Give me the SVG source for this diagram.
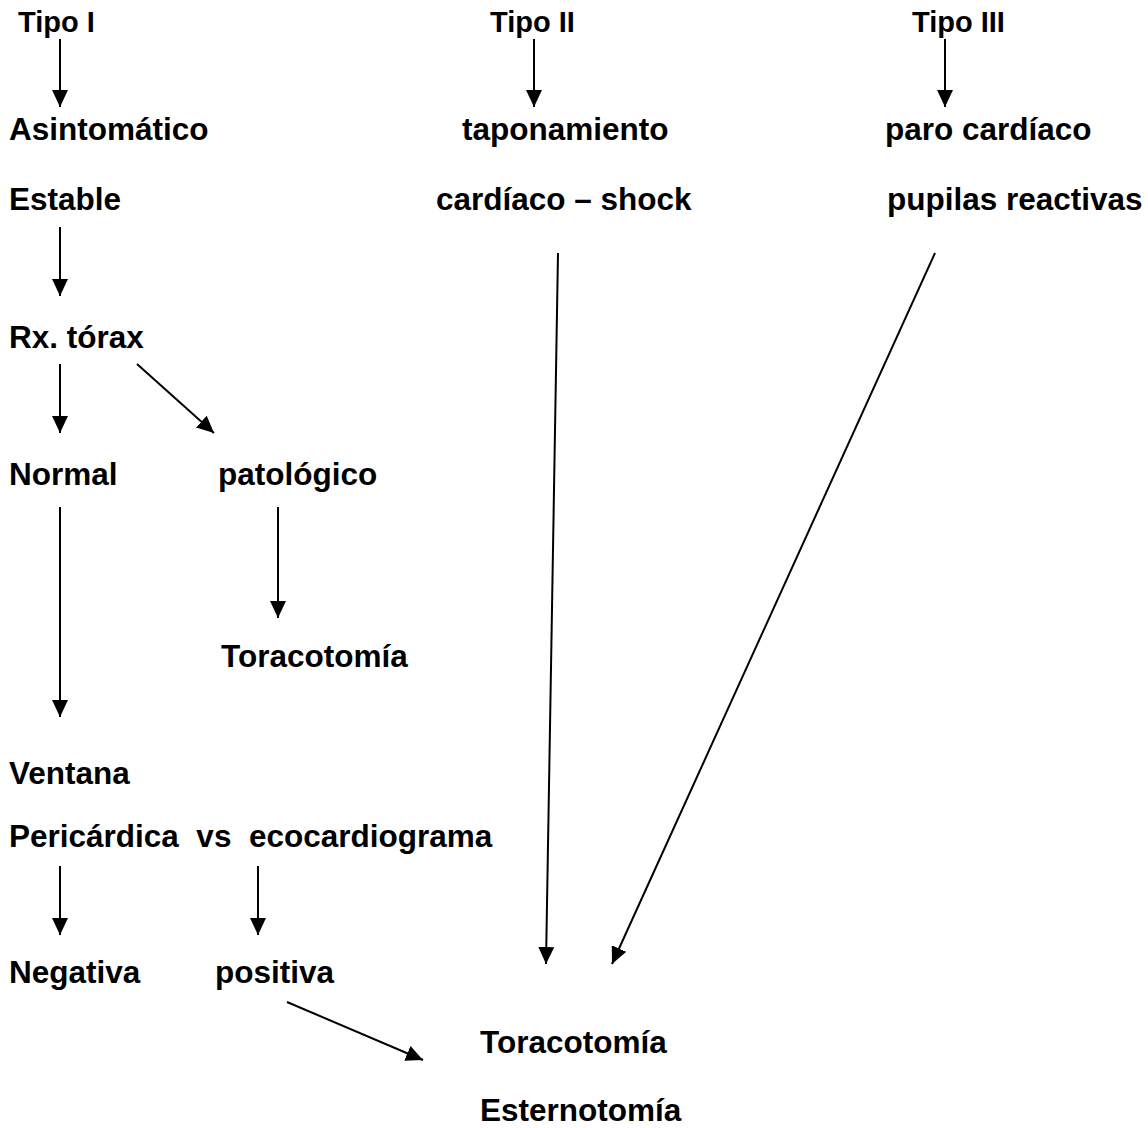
<svg xmlns="http://www.w3.org/2000/svg" width="1148" height="1128" viewBox="0 0 1148 1128">
  <style>
    text { font-family: "Liberation Sans", Arial, sans-serif; font-weight: bold; fill: #000; font-size: 31.5px; }
    text.head { font-size: 29px; }
    .conn line { stroke: #000; stroke-width: 2; fill: none; }
  </style>
  <defs>
    <marker id="arrow" viewBox="0 0 17 16" refX="17" refY="8" markerWidth="17" markerHeight="16" markerUnits="userSpaceOnUse" orient="auto">
      <path d="M0,0 L17,8 L0,16 Z" fill="#000"/>
    </marker>
  </defs>
  <rect width="1148" height="1128" fill="#fff"/>

  <!-- column headers -->
  <g id="tipo1"><text class="head" x="18" y="32">Tipo I</text></g>
  <g id="tipo2"><text class="head" x="490" y="32">Tipo II</text></g>
  <g id="tipo3"><text class="head" x="912" y="32">Tipo III</text></g>

  <!-- Tipo I branch -->
  <g id="asintomatico"><text x="9" y="140">Asintomático</text></g>
  <g id="estable"><text x="9" y="210">Estable</text></g>
  <g id="rx-torax"><text x="9" y="348">Rx. tórax</text></g>
  <g id="normal"><text x="9" y="485">Normal</text></g>
  <g id="patologico"><text x="218" y="485">patológico</text></g>
  <g id="toracotomia-1"><text x="221" y="667">Toracotomía</text></g>
  <g id="ventana"><text x="9" y="784">Ventana</text></g>
  <g id="pericardica"><text x="9" y="847" xml:space="preserve">Pericárdica  vs  ecocardiograma</text></g>
  <g id="negativa"><text x="9" y="983">Negativa</text></g>
  <g id="positiva"><text x="215" y="983">positiva</text></g>

  <!-- Tipo II / III -->
  <g id="taponamiento"><text x="462" y="140">taponamiento</text></g>
  <g id="cardiaco-shock"><text x="436" y="210">cardíaco – shock</text></g>
  <g id="paro"><text x="885" y="140">paro cardíaco</text></g>
  <g id="pupilas"><text x="887" y="210">pupilas reactivas</text></g>

  <!-- final outcome -->
  <g id="toracotomia-2"><text x="480" y="1053">Toracotomía</text></g>
  <g id="esternotomia"><text x="480" y="1121">Esternotomía</text></g>

  <g class="conn">
    <line x1="60" y1="39" x2="60" y2="107" marker-end="url(#arrow)"/>
    <line x1="534" y1="39" x2="534" y2="107" marker-end="url(#arrow)"/>
    <line x1="945" y1="39" x2="945" y2="107" marker-end="url(#arrow)"/>
    <line x1="60" y1="227" x2="60" y2="296" marker-end="url(#arrow)"/>
    <line x1="60" y1="364" x2="60" y2="433" marker-end="url(#arrow)"/>
    <line x1="137" y1="364" x2="214" y2="433" marker-end="url(#arrow)"/>
    <line x1="278" y1="507" x2="278" y2="618" marker-end="url(#arrow)"/>
    <line x1="60" y1="507" x2="60" y2="717" marker-end="url(#arrow)"/>
    <line x1="60" y1="866" x2="60" y2="935" marker-end="url(#arrow)"/>
    <line x1="258" y1="866" x2="258" y2="935" marker-end="url(#arrow)"/>
    <line x1="287" y1="1002" x2="423" y2="1060" marker-end="url(#arrow)"/>
    <line x1="558" y1="253" x2="546" y2="964" marker-end="url(#arrow)"/>
    <line x1="935" y1="253" x2="612" y2="964" marker-end="url(#arrow)"/>
  </g>
</svg>
